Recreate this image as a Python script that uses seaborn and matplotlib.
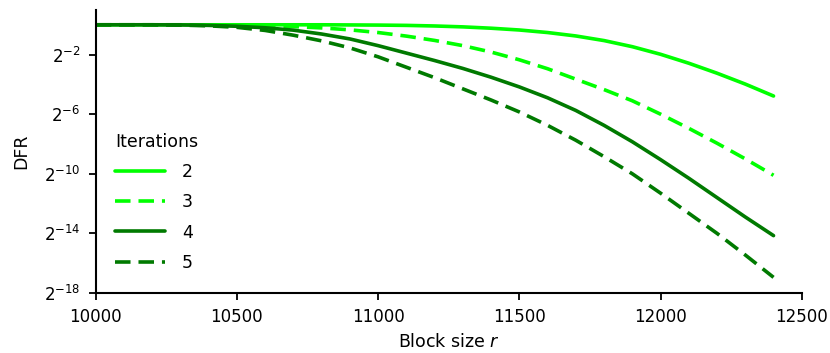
import numpy as np
import pandas as pd
import matplotlib
matplotlib.use("Agg")
import matplotlib.pyplot as plt
import seaborn as sns
from matplotlib.ticker import FixedLocator, FuncFormatter

# block sizes r
block_size = [10000, 10100, 10200, 10300, 10400, 10500, 10600, 10700, 10800,
              10900, 11000, 11100, 11200, 11300, 11400, 11500, 11600, 11700,
              11800, 11900, 12000, 12100, 12200, 12300, 12400]

# log2(DFR), one list per number of iterations
log2_dfr_2 = [0, 0, 0, 0, 0, 0, 0, 0, 0, -0.01, -0.02, -0.04, -0.08, -0.14,
              -0.23, -0.35, -0.52, -0.75, -1.06, -1.47, -1.98, -2.58, -3.25,
              -3.98, -4.78]
log2_dfr_3 = [0, 0, 0, 0, -0.01, -0.03, -0.06, -0.12, -0.21, -0.34, -0.52,
              -0.76, -1.05, -1.4, -1.83, -2.35, -2.95, -3.65, -4.35, -5.1,
              -6.0, -6.95, -7.95, -9.0, -10.1]
log2_dfr_4 = [0, 0, 0, -0.01, -0.04, -0.1, -0.2, -0.36, -0.62, -0.95, -1.4,
              -1.9, -2.4, -2.93, -3.52, -4.17, -4.9, -5.75, -6.75, -7.85,
              -9.05, -10.3, -11.6, -12.9, -14.15]
log2_dfr_5 = [0, 0, 0, -0.02, -0.07, -0.17, -0.38, -0.7, -1.08, -1.55, -2.15,
              -2.85, -3.55, -4.3, -5.05, -5.85, -6.75, -7.75, -8.85, -10.0,
              -11.3, -12.65, -14.0, -15.45, -16.95]

iterations = ["2", "3", "4", "5"]
series = [log2_dfr_2, log2_dfr_3, log2_dfr_4, log2_dfr_5]
colors = ["#00ff00", "#00ff00", "#007a00", "#007a00"]
dashed = [False, True, False, True]

y_exponents = [-2, -6, -10, -14, -18]

sns.set_style("ticks")
plt.rcParams["font.family"] = ["DejaVu Sans"]
plt.rcParams["mathtext.fontset"] = "dejavusans"
plt.rcParams["text.color"] = "black"
plt.rcParams["axes.labelcolor"] = "black"

fig, ax = plt.subplots(figsize=(8.3, 3.53), dpi=100)
fig.subplots_adjust(left=0.1153, right=0.966, bottom=0.17, top=0.972)

for it, vals, col, dsh in zip(iterations, series, colors, dashed):
    df = pd.DataFrame({"r": block_size, "DFR": 2.0 ** np.array(vals)})
    sns.lineplot(data=df, x="r", y="DFR", ax=ax, color=col,
                 linewidth=2.6, label=it)
    if dsh:
        ax.lines[-1].set_dashes([4.3, 2.2])

ax.set_yscale("log", base=2)
ax.set_xlim(10000, 12500)
ax.set_ylim(2.0 ** -18, 2.0 ** 1)
ax.set_xticks([10000, 10500, 11000, 11500, 12000, 12500])
ax.yaxis.set_major_locator(FixedLocator([2.0 ** e for e in y_exponents]))
ax.yaxis.set_minor_locator(FixedLocator([]))
ax.yaxis.set_major_formatter(FuncFormatter(
    lambda v, p: "$2^{%d}$" % round(np.log2(v))))

ax.set_xlabel("Block size $r$", fontsize=12.5, labelpad=5)
ax.set_ylabel("DFR", fontsize=12.5, labelpad=10)
ax.tick_params(axis="both", labelsize=12, length=5, width=1.3,
               colors="black", direction="out")
ax.tick_params(axis="x", pad=6)
ax.tick_params(axis="y", pad=6)
sns.despine(ax=ax)
for s in ["left", "bottom"]:
    ax.spines[s].set_linewidth(1.5)
    ax.spines[s].set_color("black")

leg = ax.legend(title="Iterations", loc="lower left",
                bbox_to_anchor=(0.005, 0.02), frameon=False,
                fontsize=12.5, title_fontsize=12.5, handlelength=2.9,
                labelspacing=0.7, handletextpad=0.95)
leg._legend_box.align = "left"

plt.savefig("out.png", dpi=100)
plt.close()
